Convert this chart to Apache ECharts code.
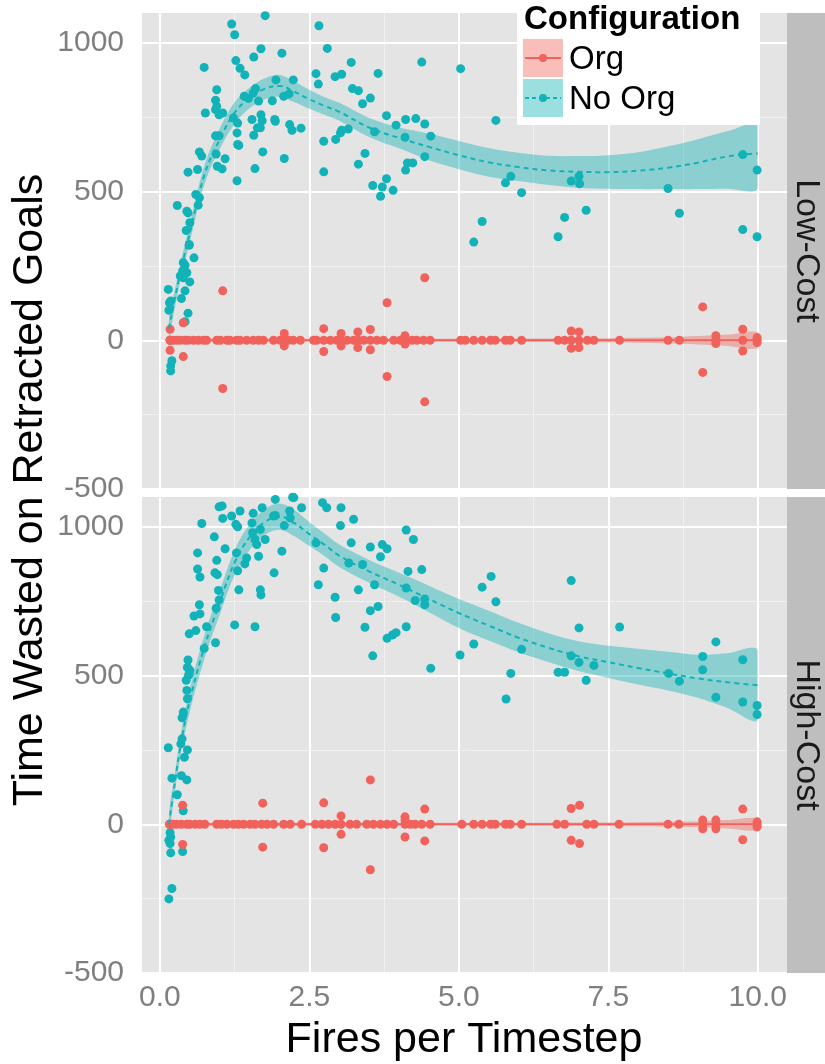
<!DOCTYPE html>
<html><head><meta charset="utf-8">
<script src="https://cdn.jsdelivr.net/npm/echarts@6/dist/echarts.min.js"></script>
<style>html,body{margin:0;padding:0;background:#fff;}#chart{width:825px;height:1064px;}</style>
</head><body><div id="chart"></div>
<script>
// ---- ticks / labels ----
const xTicks = [0, 2.5, 5, 7.5, 10];
const xMinorTicks = [1.25, 3.75, 6.25, 8.75];
const yTicks = [-500, 0, 500, 1000];
const yMinorTicks = [-250, 250, 750];
const panels = ['Low-Cost', 'High-Cost'];
const configs = ['Org', 'No Org'];
const xTitle = 'Fires per Timestep';
const yTitle = 'Time Wasted on Retracted Goals';
const legendTitle = 'Configuration';

// ---- points: Low-Cost ----
const lowNoOrgPts = [[1.76,1091],[1.20,1063],[1.25,1027],[2.66,1057],[1.69,980],[1.57,952],[2.04,965],[2.80,981],[0.74,917],[1.27,940],[1.34,914],[1.42,892],[3.20,934],[3.65,897],[4.38,935],[5.03,913],[2.61,896],[2.65,861],[2.93,886],[3.04,894],[1.94,875],[2.23,875],[0.95,842],[1.60,846],[1.56,831],[1.41,820],[1.48,813],[1.65,804],[1.88,805],[2.07,820],[2.16,828],[3.22,846],[3.32,839],[3.52,814],[3.39,795],[0.93,807],[0.95,786],[0.76,764],[0.93,775],[0.99,758],[1.05,764],[1.23,747],[1.30,730],[1.54,742],[1.69,758],[1.71,738],[1.63,714],[1.68,714],[1.92,742],[1.93,736],[2.17,725],[2.21,706],[2.36,713],[1.29,697],[1.57,689],[0.93,687],[0.99,687],[1.30,658],[1.32,655],[3.79,755],[4.11,742],[4.28,745],[3.95,723],[4.43,727],[3.59,701],[4.10,682],[4.53,686],[3.02,697],[3.04,706],[3.15,710],[2.94,675],[2.74,669],[3.43,628],[3.32,592],[4.43,617],[4.14,596],[4.23,596],[4.11,572],[2.74,566],[3.56,520],[3.72,515],[3.79,543],[3.90,504],[3.69,484],[0.66,633],[0.70,619],[0.94,626],[1.09,610],[0.96,585],[1.04,576],[1.59,577],[1.72,633],[2.08,611],[0.47,565],[0.63,574],[1.29,536],[0.29,453],[0.45,434],[0.47,428],[0.60,490],[0.66,479],[0.64,454],[0.50,395],[0.44,369],[0.49,319],[0.49,322],[0.57,277],[0.39,261],[0.42,252],[0.38,233],[0.45,227],[0.34,216],[0.39,210],[0.50,196],[0.14,171],[0.42,166],[0.18,132],[0.16,126],[0.36,140],[0.15,101],[0.47,91],[0.42,62],[0.20,-69],[0.18,-86],[0.18,-103],[0.17,0],[5.62,739],[5.78,529],[5.87,551],[6.05,496],[5.39,399],[5.25,330],[6.88,535],[7.01,551],[7.02,526],[6.66,348],[6.77,413],[7.13,437],[8.50,510],[8.69,427],[9.75,624],[9.99,572],[9.75,372],[9.99,348]];
const lowOrgPts = [[0.17,0],[0.17,0],[0.22,0],[0.28,0],[0.34,0],[0.42,0],[0.47,0],[0.56,0],[0.64,0],[0.73,0],[0.78,0],[0.95,0],[1.01,0],[1.12,0],[1.17,0],[1.28,0],[1.34,0],[1.45,0],[1.56,0],[1.65,0],[1.73,0],[1.90,0],[2.01,0],[2.07,0],[2.08,0],[2.15,0],[2.23,0],[2.35,0],[2.57,0],[2.62,0],[2.74,0],[2.85,0],[2.96,0],[3.03,0],[3.13,0],[3.24,0],[3.32,0],[3.41,0],[3.52,0],[3.63,0],[3.74,0],[3.91,0],[4.02,0],[4.10,0],[4.22,0],[4.30,0],[4.41,0],[4.52,0],[5.03,0],[5.11,0],[5.25,0],[5.39,0],[5.53,0],[5.61,0],[5.78,0],[5.86,0],[6.05,0],[6.66,0],[6.77,0],[6.88,0],[7.01,0],[7.15,0],[7.26,0],[7.69,0],[8.50,0],[8.69,0],[9.30,0],[9.75,0],[9.99,0],
  [0.17,37],[0.17,-34],[0.39,59],[0.39,-55],[1.05,166],[1.05,-162],[2.08,23],[2.08,-19],[2.74,39],[2.74,-38],[3.03,23],[3.03,-19],[3.31,28],[3.31,-25],[3.52,36],[3.52,-32],[3.80,126],[3.80,-122],[4.10,15],[4.10,-13],[4.43,210],[4.43,-207],[6.88,31],[7.01,28],[6.88,-27],[7.01,-25],[9.08,112],[9.08,-108],[9.30,15],[9.30,-11],[9.75,37],[9.75,-36],[9.99,9],[9.99,-8]];

// ---- points: High-Cost ----
const highNoOrgPts = [[1.93,1092],[2.22,1099],[2.24,1098],[2.72,1081],[2.79,1064],[3.03,1064],[2.37,1064],[1.71,1064],[1.34,1053],[0.99,1067],[1.04,1070],[1.05,1028],[1.20,1036],[1.56,1045],[0.70,1011],[1.27,1008],[1.30,1000],[1.54,1013],[1.90,1036],[1.93,1038],[2.17,1053],[2.18,1030],[2.08,1004],[3.02,1004],[3.24,1025],[0.91,966],[1.09,926],[0.63,912],[0.95,887],[0.63,858],[0.67,831],[0.92,845],[0.96,839],[1.30,852],[1.28,912],[1.45,895],[1.42,875],[1.55,980],[1.59,957],[1.62,940],[1.65,901],[1.68,991],[1.76,957],[2.04,918],[1.91,845],[1.68,788],[1.69,771],[1.32,788],[0.98,786],[0.99,754],[0.66,738],[0.57,700],[0.67,707],[0.94,726],[0.78,664],[1.25,670],[1.59,664],[0.49,640],[0.60,651],[0.93,610],[0.74,591],[0.47,552],[0.46,527],[0.49,507],[0.44,484],[0.50,518],[0.48,501],[0.45,450],[0.46,422],[0.39,377],[0.37,358],[0.37,287],[2.61,946],[3.20,946],[3.52,932],[3.69,899],[3.72,940],[3.80,926],[4.12,989],[4.24,957],[2.74,861],[2.65,805],[3.16,878],[3.39,873],[3.59,805],[3.32,788],[2.93,763],[2.94,695],[3.52,718],[3.65,732],[3.43,662],[3.56,566],[3.80,625],[3.89,636],[3.95,644],[4.12,664],[4.15,850],[4.38,856],[4.12,794],[4.27,752],[4.43,757],[4.43,738],[4.53,524],[5.02,569],[5.25,606],[5.39,797],[5.54,833],[5.62,748],[6.05,588],[5.87,507],[5.79,421],[6.88,819],[7.01,660],[6.88,566],[7.01,544],[7.26,534],[6.66,511],[6.77,511],[7.13,484],[7.69,663],[8.51,507],[8.69,481],[9.08,564],[9.08,519],[9.30,613],[9.30,427],[9.75,553],[9.75,411],[9.99,399],[9.99,369],[0.14,257],[0.35,270],[0.46,250],[0.41,225],[0.20,155],[0.36,163],[0.45,149],[0.29,99],[0.39,45],[0.17,-28],[0.18,-43],[0.15,-54],[0.17,-65],[0.18,-96],[0.38,-92],[0.20,-216],[0.15,-251]];
const highOrgPts = [[0.16,0],[0.16,0],[0.22,0],[0.28,0],[0.36,0],[0.45,0],[0.50,0],[0.59,0],[0.67,0],[0.75,0],[0.95,0],[1.03,0],[1.12,0],[1.23,0],[1.31,0],[1.40,0],[1.51,0],[1.59,0],[1.70,0],[1.79,0],[1.90,0],[2.07,0],[2.18,0],[2.37,0],[2.60,0],[2.71,0],[2.82,0],[2.93,0],[3.03,0],[3.18,0],[3.29,0],[3.46,0],[3.57,0],[3.69,0],[3.80,0],[3.91,0],[4.10,0],[4.19,0],[4.27,0],[4.38,0],[4.52,0],[5.05,0],[5.25,0],[5.39,0],[5.53,0],[5.61,0],[5.78,0],[5.86,0],[6.05,0],[6.64,0],[6.77,0],[7.14,0],[7.26,0],[7.68,0],[8.50,0],[8.68,0],[9.08,0],[9.30,0],[9.99,0],
  [0.38,64],[0.38,-68],[1.72,71],[1.72,-77],[2.74,72],[2.74,-79],[3.03,28],[3.03,-34],[3.52,149],[3.52,-153],[4.10,25],[4.10,14],[4.10,-43],[4.43,51],[4.43,-56],[6.88,53],[7.02,64],[6.88,-54],[7.02,-65],[9.08,14],[9.08,-15],[9.30,14],[9.30,-15],[9.75,51],[9.75,-52],[9.99,8],[9.99,-9]];

// ---- smoothed fits ----
const fitX = [0.15,0.25,0.35,0.5,0.75,1,1.25,1.5,1.75,2,2.25,2.5,2.75,3,3.5,4,4.5,5,5.5,6,6.5,7,7.5,8,8.5,9,9.5,10];
const lowNoOrgFit = [40,140,235,360,560,675,765,815,845,855,835,810,788,768,715,680,650,622,598,582,571,566,565,570,580,597,618,628];
const lowNoOrgLo  = [5,110,205,330,528,643,728,780,810,818,800,778,758,738,683,645,605,575,550,535,522,513,509,508,508,508,509,510];
const lowNoOrgHi  = [75,170,265,392,592,712,800,850,880,892,870,842,818,798,747,715,695,670,646,630,620,619,622,632,652,676,703,722];
const lowOrgFit = [0,0,0,0,0,0,0,0,0,0,0,0,0,0,0,0,0,0,0,0,0,0,0,0,0,0,0,0];
const lowOrgLo  = [-9,-8,-7,-6,-5,-5,-5,-5,-5,-5,-5,-5,-5,-5,-5,-5,-5,-5,-5,-6,-6,-6,-7,-8,-10,-14,-19,-26];
const lowOrgHi  = [9,8,7,6,5,5,5,5,5,5,5,5,5,5,5,5,5,5,5,6,6,6,7,8,10,14,19,26];
const highNoOrgFit = [0,140,270,417,600,745,880,965,1015,1034,1012,975,940,903,850,805,757,710,668,627,593,565,545,525,507,490,477,467];
const highNoOrgLo  = [-35,108,235,380,560,705,838,922,972,990,968,935,902,865,812,765,713,660,618,578,545,515,492,470,450,425,390,351];
const highNoOrgHi  = [35,172,305,455,640,785,922,1008,1058,1078,1056,1015,978,940,888,845,802,757,718,677,642,615,600,590,580,570,575,585];
const highOrgFit = [0,0,0,0,0,0,0,0,0,0,0,0,0,0,0,0,0,0,0,0,0,0,0,0,0,0,0,0];
const highOrgLo  = [-8,-7,-6,-5,-5,-5,-5,-5,-5,-5,-5,-5,-5,-5,-5,-5,-5,-5,-5,-5,-5,-6,-6,-7,-8,-10,-14,-19];
const highOrgHi  = [8,7,6,5,5,5,5,5,5,5,5,5,5,5,5,5,5,5,5,5,5,6,6,7,8,10,14,19];

// ---- styling ----
const RED = '#F0625B', TEAL = '#12B3B8';
const RED_BAND = 'rgba(240,98,91,0.42)', TEAL_BAND = 'rgba(18,179,184,0.42)';
const FONT = '"Liberation Sans", Arial, sans-serif';
const AXIS_GREY = '#7F7F7F';

const chart = echarts.init(document.getElementById('chart'), null, {renderer: 'canvas'});

function pairs(xs, ys) { return xs.map((x, i) => [x, ys[i]]); }

function gridlineSeries(gi) {
  const major = {color: '#FFFFFF', width: 2, type: 'solid'};
  const minor = {color: '#F1F1F1', width: 1, type: 'solid'};
  return {
    type: 'line', xAxisIndex: gi, yAxisIndex: gi, data: [], silent: true, z: 1,
    markLine: {
      silent: true, z: 1, animation: false, symbol: ['none', 'none'], label: {show: false},
      emphasis: {disabled: true},
      data: [
        ...xMinorTicks.map(v => ({xAxis: v, lineStyle: minor})),
        ...yMinorTicks.map(v => ({yAxis: v, lineStyle: minor})),
        ...xTicks.map(v => ({xAxis: v, lineStyle: major})),
        ...yTicks.map(v => ({yAxis: v, lineStyle: major}))
      ]
    }
  };
}

// confidence band drawn as one polygon through the axes' own coordinate transform
function bandSeries(gi, lo, hi, color, z) {
  return {
    type: 'custom', xAxisIndex: gi, yAxisIndex: gi, silent: true, z: z, clip: true,
    data: fitX.map((x, i) => [x, lo[i], hi[i]]),
    encode: {x: 0, y: [1, 2]},
    renderItem: function (params, api) {
      if (params.dataIndex !== 0) return null;
      const upper = fitX.map((x, i) => api.coord([x, hi[i]]));
      const lower = fitX.map((x, i) => api.coord([x, lo[i]])).reverse();
      const x0 = api.coord([fitX[0], 0])[0];
      const x1 = api.coord([fitX[fitX.length - 1], 0])[0];
      const cs = params.coordSys;
      return {
        type: 'polygon',
        shape: {points: upper.concat(lower), smooth: 0.35},
        style: {fill: color, stroke: null},
        clipPath: {type: 'rect', shape: {x: x0, y: cs.y, width: x1 - x0, height: cs.height}}
      };
    }
  };
}

function fitSeries(gi, ys, color, dashed) {
  return {type: 'line', xAxisIndex: gi, yAxisIndex: gi, data: pairs(fitX, ys), symbol: 'none',
    smooth: 0.4, silent: true, z: 6,
    lineStyle: {color: color, width: 2, type: dashed ? [5, 4] : 'solid'}};
}

function pointSeries(gi, pts, color, z) {
  return {type: 'scatter', xAxisIndex: gi, yAxisIndex: gi, data: pts, symbol: 'circle',
    symbolSize: 9, itemStyle: {color: color, opacity: 1}, silent: true, z: z};
}

const series = [
  gridlineSeries(0), gridlineSeries(1),
  bandSeries(0, lowNoOrgLo, lowNoOrgHi, TEAL_BAND, 2),
  bandSeries(1, highNoOrgLo, highNoOrgHi, TEAL_BAND, 2),
  pointSeries(0, lowNoOrgPts, TEAL, 3), pointSeries(1, highNoOrgPts, TEAL, 3),
  pointSeries(0, lowOrgPts, RED, 4), pointSeries(1, highOrgPts, RED, 4),
  bandSeries(0, lowOrgLo, lowOrgHi, RED_BAND, 5),
  bandSeries(1, highOrgLo, highOrgHi, RED_BAND, 5),
  fitSeries(0, lowNoOrgFit, TEAL, true), fitSeries(1, highNoOrgFit, TEAL, true),
  fitSeries(0, lowOrgFit, RED, false), fitSeries(1, highOrgFit, RED, false)
];

const gridTops = [13, 497];
const option = {
  animation: false,
  backgroundColor: '#FFFFFF',
  grid: gridTops.map(t => ({left: 142, top: t, width: 645, height: 476, show: true,
    backgroundColor: '#E4E4E4', borderWidth: 0})),
  xAxis: [0, 1].map(i => ({
    type: 'value', gridIndex: i, min: -0.3, max: 10.49,
    axisLine: {show: false}, splitLine: {show: false},
    axisTick: {show: i === 1, customValues: xTicks, length: 7, lineStyle: {color: AXIS_GREY, width: 1.5}},
    axisLabel: {show: i === 1, customValues: xTicks, formatter: v => Number(v).toFixed(1),
      color: AXIS_GREY, fontSize: 30, fontFamily: FONT, margin: 10}
  })),
  yAxis: [0, 1].map(i => ({
    type: 'value', gridIndex: i, min: -500, max: 1100,
    axisLine: {show: false}, splitLine: {show: false},
    axisTick: {show: true, customValues: yTicks, length: 7, lineStyle: {color: AXIS_GREY, width: 1.5}},
    axisLabel: {show: true, customValues: yTicks, formatter: v => String(v),
      color: AXIS_GREY, fontSize: 30, fontFamily: FONT, margin: 18}
  })),
  series: series,
  graphic: [
    {type: 'rect', silent: true, shape: {x: 787, y: 13, width: 38, height: 476}, style: {fill: '#BEBEBE'}},
    {type: 'rect', silent: true, shape: {x: 787, y: 497, width: 38, height: 476}, style: {fill: '#BEBEBE'}},
    {type: 'text', silent: true, x: 806, y: 251, rotation: -Math.PI / 2,
      style: {text: panels[0], font: '34px ' + FONT, fill: '#1A1A1A', align: 'center', verticalAlign: 'middle', textAlign: 'center', textVerticalAlign: 'middle'}},
    {type: 'text', silent: true, x: 806, y: 735, rotation: -Math.PI / 2,
      style: {text: panels[1], font: '34px ' + FONT, fill: '#1A1A1A', align: 'center', verticalAlign: 'middle', textAlign: 'center', textVerticalAlign: 'middle'}},
    {type: 'text', silent: true, x: 464, y: 1040,
      style: {text: xTitle, font: '43px ' + FONT, fill: '#000000', align: 'center', verticalAlign: 'middle', textAlign: 'center', textVerticalAlign: 'middle'}},
    {type: 'text', silent: true, x: 30, y: 490, rotation: Math.PI / 2,
      style: {text: yTitle, font: '43px ' + FONT, fill: '#000000', align: 'center', verticalAlign: 'middle', textAlign: 'center', textVerticalAlign: 'middle'}},
    // legend
    {type: 'rect', silent: true, z: 100, shape: {x: 517, y: 0, width: 243, height: 125}, style: {fill: '#FFFFFF'}},
    {type: 'text', silent: true, z: 101, x: 524, y: 20,
      style: {text: legendTitle, font: 'bold 33px ' + FONT, fill: '#000000', align: 'left', verticalAlign: 'middle', textAlign: 'left', textVerticalAlign: 'middle'}},
    {type: 'rect', silent: true, z: 101, shape: {x: 523, y: 39, width: 40, height: 38}, style: {fill: RED_BAND}},
    {type: 'rect', silent: true, z: 101, shape: {x: 523, y: 79, width: 40, height: 38}, style: {fill: TEAL_BAND}},
    {type: 'line', silent: true, z: 102, shape: {x1: 525, y1: 58, x2: 561, y2: 58}, style: {stroke: RED, lineWidth: 2}},
    {type: 'line', silent: true, z: 102, shape: {x1: 525, y1: 98, x2: 561, y2: 98}, style: {stroke: TEAL, lineWidth: 2, lineDash: [4, 3]}},
    {type: 'circle', silent: true, z: 103, shape: {cx: 543, cy: 58, r: 4}, style: {fill: RED}},
    {type: 'circle', silent: true, z: 103, shape: {cx: 543, cy: 98, r: 4}, style: {fill: TEAL}},
    {type: 'text', silent: true, z: 101, x: 569, y: 60,
      style: {text: configs[0], font: '33px ' + FONT, fill: '#000000', align: 'left', verticalAlign: 'middle', textAlign: 'left', textVerticalAlign: 'middle'}},
    {type: 'text', silent: true, z: 101, x: 569, y: 100,
      style: {text: configs[1], font: '33px ' + FONT, fill: '#000000', align: 'left', verticalAlign: 'middle', textAlign: 'left', textVerticalAlign: 'middle'}}
  ]
};
chart.setOption(option);
</script>
</body></html>
